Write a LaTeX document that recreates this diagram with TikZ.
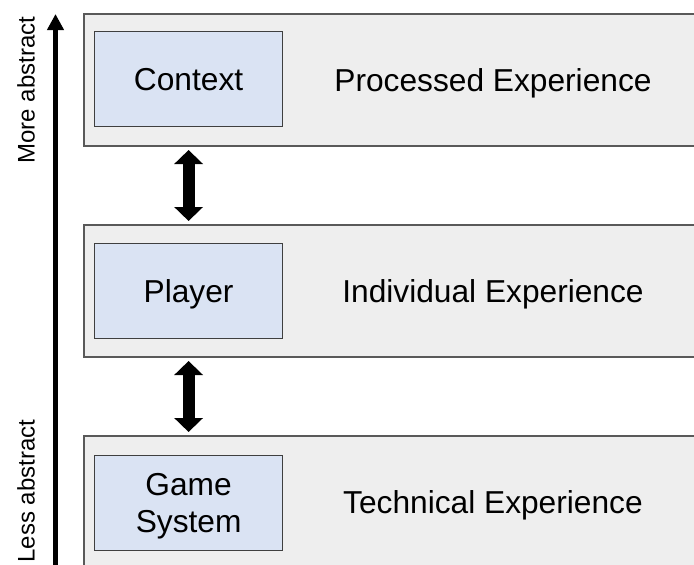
\documentclass[tikz,border=0pt]{standalone}
\usepackage{fontspec}
\setmainfont{Liberation Sans}
\usetikzlibrary{arrows.meta}
\definecolor{layerfill}{HTML}{EEEEEE}
\definecolor{layerline}{HTML}{595959}
\definecolor{unitfill}{HTML}{DAE3F3}
\definecolor{unitline}{HTML}{3F3F3F}
\begin{document}
\begin{tikzpicture}[x=1pt,y=-1pt,
  layer/.style={draw=layerline, fill=layerfill, line width=2pt, rectangle,
    minimum width=640pt, minimum height=132pt, anchor=north west, inner sep=0pt},
  unit/.style={draw=unitline, fill=unitfill, line width=1.2pt, rectangle,
    minimum width=188pt, minimum height=95pt, anchor=north west, inner sep=0pt,
    align=center, font=\fontsize{31.7}{36.7}\selectfont},
  capline/.style={text height=23pt, text depth=0pt},
  caption/.style={anchor=base, font=\fontsize{31.7}{36}\selectfont},
  axislabel/.style={font=\fontsize{24}{28}\selectfont, rotate=90},
  link/.style={line width=12pt,
    {Triangle[width=28pt,length=14pt]}-{Triangle[width=28pt,length=14pt]},
    shorten <=3pt, shorten >=3pt},
  axis/.style={line width=5pt, -{Triangle[width=16pt,length=16pt]}}
]
\useasboundingbox (0,0) rectangle (694,565);
\clip (0,0) rectangle (694,565);

% abstraction axis
\coordinate (axisbottom) at (55.5,575);
\coordinate (axistop) at (55.5,14);
\draw[axis] (axisbottom) -- (axistop);
\node[axislabel] (more) at (26,90) {More abstract};
\node[axislabel] (less) at (26,491) {Less abstract};

% layers
\node[layer] (ctxlayer) at (83,13) {};
\node[layer] (plylayer) at (83,224) {};
\node[layer] (syslayer) at (83,435) {};

\node[unit, capline] (ctxunit) at (94,31) {Context};
\node[unit, capline] (plyunit) at (94,243) {Player};
\node[unit, text depth=0pt] (sysunit) at (94,455) {Game\\System};

\node[caption] (ctxcap) at (493,91.5) {Processed Experience};
\node[caption] (plycap) at (493,302.7) {Individual Experience};
\node[caption] (syscap) at (493,513.7) {Technical Experience};

% links between layers
\draw[link] (ctxunit.center |- ctxlayer.south) -- (plyunit.center |- plylayer.north);
\draw[link] (plyunit.center |- plylayer.south) -- (sysunit.center |- syslayer.north);
\end{tikzpicture}
\end{document}
